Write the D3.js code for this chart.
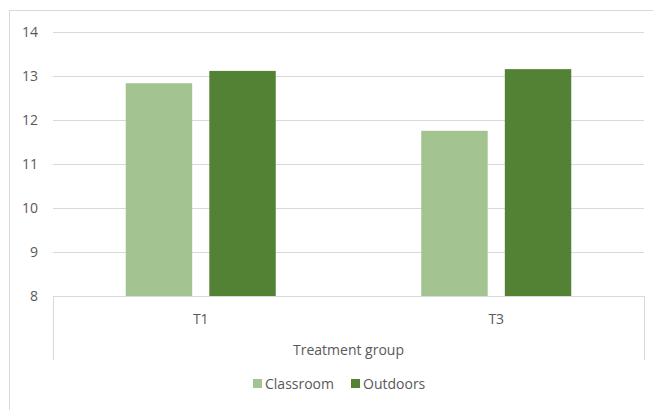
<!DOCTYPE html>
<html><head><meta charset="utf-8">
<script src="https://cdn.jsdelivr.net/npm/d3@7"></script>
<style>body{margin:0;background:#fff}text{font-family:"Open Sans","Noto Sans",sans-serif;fill:#595959}</style>
</head><body><svg id="c" width="653" height="410"></svg>
<script>
const categories = ["T1", "T3"];
const seriesNames = ["Classroom", "Outdoors"];
const classroom = [12.83, 11.75];
const outdoors = [13.11, 13.15];
const yTicks = [8, 9, 10, 11, 12, 13, 14];
const colors = ["#A3C491", "#548235"];
const axisTitle = "Treatment group";

(function () {
const svg = d3.select("#c");
svg.append("rect").attr("x", 9.5).attr("y", 10.5).attr("width", 650).attr("height", 410)
  .attr("fill", "#fff").attr("stroke", "#D9D9D9");

const pLeft = 53, pRight = 644, pTop = 31.7, pBottom = 296;
const y = d3.scaleLinear().domain([8, 14]).range([pBottom, pTop]);
const x0 = d3.scaleBand().domain(categories).range([pLeft, pRight]);
const groupW = 150;
const x1 = d3.scaleBand().domain(seriesNames).range([0, groupW]).paddingInner(0.205);

svg.append("g").selectAll("line").data(yTicks.slice(1)).join("line")
  .attr("x1", pLeft).attr("x2", pRight)
  .attr("y1", d => Math.round(y(d)) + 0.5).attr("y2", d => Math.round(y(d)) + 0.5)
  .attr("stroke", "#D9D9D9").attr("stroke-width", 1);

const yAxis = d3.axisLeft(y).tickValues(yTicks).tickFormat(d3.format("d")).tickSize(0).tickPadding(0);
const ga = svg.append("g").attr("transform", `translate(${38},0)`).call(yAxis);
ga.select(".domain").remove();
ga.selectAll("text").attr("font-size", 14).style("font-family", '"Open Sans","Noto Sans",sans-serif').attr("fill", "#595959");

const data = categories.map((c, i) => ({c, vals: [classroom[i], outdoors[i]]}));
const g = svg.append("g");
data.forEach(d => {
  const gx = x0(d.c) + (x0.bandwidth() - groupW) / 2;
  d.vals.forEach((v, j) => {
    g.append("rect")
      .attr("x", gx + x1(seriesNames[j]))
      .attr("width", x1.bandwidth())
      .attr("y", y(v))
      .attr("height", y(8) - y(v))
      .attr("fill", colors[j]);
  });
});

const axisG = svg.append("g").attr("stroke", "#D9D9D9").attr("stroke-width", 1);
axisG.append("line").attr("x1", pLeft).attr("x2", pRight + 0.5).attr("y1", pBottom + 0.5).attr("y2", pBottom + 0.5);
axisG.append("line").attr("x1", pLeft + 0.5).attr("x2", pLeft + 0.5).attr("y1", pBottom).attr("y2", 360);
axisG.append("line").attr("x1", pRight + 0.5).attr("x2", pRight + 0.5).attr("y1", pBottom).attr("y2", 360);

svg.append("g").selectAll("text").data(categories).join("text")
  .attr("x", d => x0(d) + x0.bandwidth() / 2).attr("y", 324)
  .attr("text-anchor", "middle").attr("font-size", 14).text(d => d);

svg.append("text").attr("x", (pLeft + pRight) / 2).attr("y", 355)
  .attr("text-anchor", "middle").attr("font-size", 14).text(axisTitle);

const leg = svg.append("g");
const legX = [253, 351];
seriesNames.forEach((s, i) => {
  leg.append("rect").attr("x", legX[i]).attr("y", 379).attr("width", 9).attr("height", 9).attr("fill", colors[i]);
  leg.append("text").attr("x", legX[i] + 12).attr("y", 389).attr("font-size", 14).text(s);
});
})();
</script></body></html>
